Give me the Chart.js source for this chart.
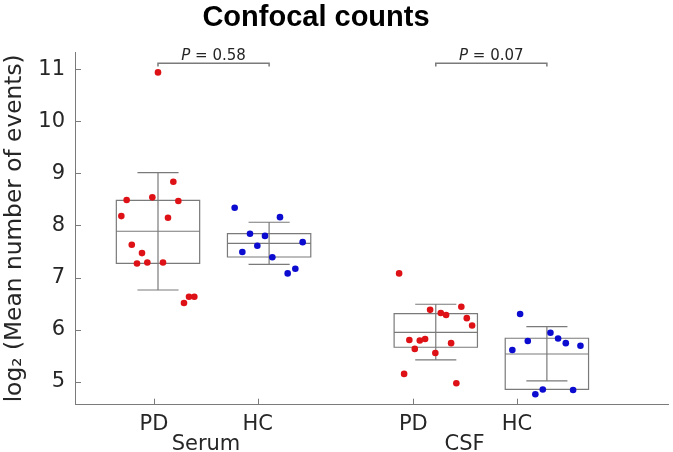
<!DOCTYPE html>
<html><head><meta charset="utf-8">
<script src="https://cdn.jsdelivr.net/npm/chart.js@4"></script>
<style>html,body{margin:0;padding:0;background:#fff}canvas{display:block}</style>
</head><body>
<canvas id="c" width="673" height="452"></canvas>
<script>
// ---------- data ----------
const chartTitle = 'Confocal counts';
const yAxisTitle = 'log\u2082 (Mean number of events)';
const groups = ['Serum', 'CSF'];
const categories = ['PD', 'HC', 'PD', 'HC'];
const boxPositions = [1, 2, 3.5, 4.5];
const tickPositions = [0.964, 1.897, 3.298, 4.231];
const groupLabelPositions = [1.432, 3.759];
const yTicks = [5, 6, 7, 8, 9, 10, 11];

const serumPD = [10.94, 8.84, 8.49, 8.54, 8.47, 8.18, 8.15, 7.63, 7.47, 7.27, 7.29, 7.29, 6.63, 6.63, 6.51];
const serumPDJitter = [0, 0.138, -0.282, -0.051, 0.183, -0.330, 0.090, -0.236, -0.144, -0.189, -0.096, 0.045, 0.279, 0.327, 0.234];
const serumHC = [8.34, 8.16, 7.84, 7.80, 7.68, 7.61, 7.49, 7.39, 7.17, 7.08];
const serumHCJitter = [-0.310, 0.098, -0.172, -0.037, 0.302, -0.106, -0.241, 0.029, 0.236, 0.167];
const csfPD = [7.08, 6.38, 6.44, 6.32, 6.28, 6.22, 6.08, 5.80, 5.79, 5.82, 5.74, 5.63, 5.55, 5.15, 4.97];
const csfPDJitter = [-0.330, -0.051, 0.230, 0.045, 0.093, 0.279, 0.327, -0.238, -0.144, -0.096, 0.138, -0.189, -0.004, -0.285, 0.185];
const csfHC = [6.30, 5.94, 5.78, 5.83, 5.74, 5.69, 5.61, 4.85, 4.84, 4.76];
const csfHCJitter = [-0.241, 0.032, -0.172, 0.101, 0.170, 0.302, -0.311, -0.037, 0.236, -0.104];

const boxQ1 = [7.274, 7.395, 5.661, 4.854];
const boxMedian = [7.889, 7.658, 5.949, 5.532];
const boxQ3 = [8.484, 7.843, 6.306, 5.834];
const whiskerLow = [6.761, 7.255, 5.417, 5.014];
const whiskerHigh = [9.014, 8.062, 6.487, 6.057];

const pValues = ['0.58', '0.07'];
const pPairs = [[0, 1], [2, 3]];

// ---------- style ----------
const RED = 'rgb(222,18,22)';
const BLUE = 'rgb(12,12,208)';
const LINE = '#7a7a7a';
const TEXT = '#262626';
const BOX_HALF = 0.375, CAP_HALF = 0.185;
const BRACKET_Y = 11.115, BRACKET_TICK = 0.06;

function pts(vals, jit, pos) { return vals.map((v, i) => ({x: pos + jit[i], y: v})); }

const overlay = {
  id: 'overlay',
  beforeDatasetsDraw(chart) {
    const {ctx, scales: {x, y}} = chart;
    ctx.save();
    ctx.strokeStyle = LINE; ctx.lineWidth = 1.2;
    boxPositions.forEach((p, i) => {
      const xc = x.getPixelForValue(p);
      const xl = x.getPixelForValue(p - BOX_HALF), xr = x.getPixelForValue(p + BOX_HALF);
      const cl = x.getPixelForValue(p - CAP_HALF), cr = x.getPixelForValue(p + CAP_HALF);
      const y1 = y.getPixelForValue(boxQ1[i]), y3 = y.getPixelForValue(boxQ3[i]);
      const ym = y.getPixelForValue(boxMedian[i]);
      const wl = y.getPixelForValue(whiskerLow[i]), wh = y.getPixelForValue(whiskerHigh[i]);
      ctx.beginPath();
      ctx.rect(xl, y3, xr - xl, y1 - y3);
      ctx.moveTo(xl, ym); ctx.lineTo(xr, ym);
      ctx.moveTo(xc, wl); ctx.lineTo(xc, wh);
      ctx.moveTo(cl, wl); ctx.lineTo(cr, wl);
      ctx.moveTo(cl, wh); ctx.lineTo(cr, wh);
      ctx.stroke();
    });
    ctx.restore();
  },
  afterDraw(chart) {
    const {ctx, scales: {x, y}, chartArea} = chart;
    ctx.save();
    // inward tick marks
    ctx.strokeStyle = LINE; ctx.lineWidth = 1;
    ctx.beginPath();
    tickPositions.forEach(t => {
      const px = Math.round(x.getPixelForValue(t)) + 0.5;
      ctx.moveTo(px, chartArea.bottom); ctx.lineTo(px, chartArea.bottom - 6);
    });
    yTicks.forEach(t => {
      const py = Math.round(y.getPixelForValue(t)) + 0.5;
      ctx.moveTo(chartArea.left, py); ctx.lineTo(chartArea.left + 6, py);
    });
    ctx.stroke();
    // group labels
    ctx.fillStyle = TEXT;
    ctx.font = '21px "DejaVu Sans"';
    ctx.textAlign = 'center'; ctx.textBaseline = 'alphabetic';
    groups.forEach((g, i) => ctx.fillText(g, x.getPixelForValue(groupLabelPositions[i]), 450));
    // title
    ctx.font = 'bold 29px "Liberation Sans"';
    ctx.fillStyle = '#000';
    ctx.fillText(chartTitle, 316, 26);
    // brackets + p values
    pPairs.forEach((pr, i) => {
      const xa = x.getPixelForValue(boxPositions[pr[0]]), xb = x.getPixelForValue(boxPositions[pr[1]]);
      const yb = y.getPixelForValue(BRACKET_Y), yt = y.getPixelForValue(BRACKET_Y - BRACKET_TICK);
      ctx.strokeStyle = LINE; ctx.lineWidth = 1.5;
      ctx.beginPath();
      ctx.moveTo(xa, yt); ctx.lineTo(xa, yb); ctx.lineTo(xb, yb); ctx.lineTo(xb, yt);
      ctx.stroke();
      const italic = 'italic 15px "DejaVu Sans"', normal = '15px "DejaVu Sans"';
      const rest = ' = ' + pValues[i];
      ctx.font = italic; const w1 = ctx.measureText('P').width;
      ctx.font = normal; const w2 = ctx.measureText(rest).width;
      const start = (xa + xb) / 2 - (w1 + w2) / 2;
      ctx.fillStyle = TEXT; ctx.textAlign = 'left';
      ctx.font = italic; ctx.fillText('P', start, yb - 3.5);
      ctx.font = normal; ctx.fillText(rest, start + w1, yb - 3.5);
    });
    ctx.restore();
  }
};

new Chart(document.getElementById('c'), {
  type: 'scatter',
  data: {
    datasets: [
      {label: 'Serum PD', data: pts(serumPD, serumPDJitter, boxPositions[0]), backgroundColor: RED},
      {label: 'Serum HC', data: pts(serumHC, serumHCJitter, boxPositions[1]), backgroundColor: BLUE},
      {label: 'CSF PD', data: pts(csfPD, csfPDJitter, boxPositions[2]), backgroundColor: RED},
      {label: 'CSF HC', data: pts(csfHC, csfHCJitter, boxPositions[3]), backgroundColor: BLUE}
    ]
  },
  options: {
    responsive: false,
    animation: false,
    devicePixelRatio: 1,
    layout: {padding: {top: 52, right: 5, left: 0, bottom: 0}},
    elements: {point: {radius: 3.3, borderWidth: 0, hoverRadius: 3.3}},
    plugins: {legend: {display: false}, tooltip: {enabled: false}},
    scales: {
      x: {
        type: 'linear', min: 0.253, max: 5.59,
        afterBuildTicks: s => { s.ticks = tickPositions.map(v => ({value: v})); },
        afterFit: s => { s.height = 47.3; },
        grid: {display: false, drawTicks: false},
        border: {display: true, color: LINE, width: 1},
        ticks: {
          padding: 7, color: TEXT, maxRotation: 0, autoSkip: false,
          font: {family: 'DejaVu Sans', size: 21},
          callback: (v, i) => categories[i]
        }
      },
      y: {
        min: 4.558, max: 11.332,
        afterBuildTicks: s => { s.ticks = yTicks.map(v => ({value: v})); },
        afterFit: s => { s.width = 75; },
        grid: {display: false, drawTicks: false},
        border: {display: true, color: LINE, width: 1},
        ticks: {padding: 10, color: TEXT, font: {family: 'DejaVu Sans', size: 21}, callback: v => String(v)},
        title: {display: true, text: yAxisTitle, color: TEXT, font: {family: 'DejaVu Sans', size: 23.3}, padding: {top: 1, bottom: 0}}
      }
    }
  },
  plugins: [overlay]
});
</script>
</body></html>
